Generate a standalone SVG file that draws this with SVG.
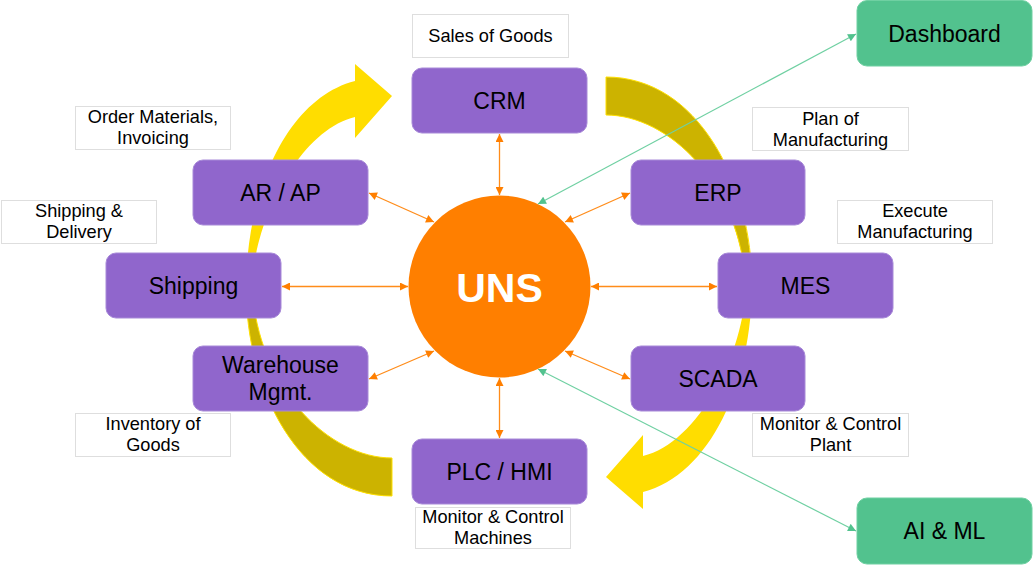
<svg xmlns="http://www.w3.org/2000/svg" width="1033" height="565" viewBox="0 0 1033 565">
<style>
.node rect{fill:#9066cc;stroke:#a88ad8;stroke-width:1}
.node text{font-family:"Liberation Sans",Arial,sans-serif;font-size:23px;fill:#000;text-anchor:middle}
.ext rect{fill:#52c28e;stroke:#6fd0a2;stroke-width:1}
.ext text{font-family:"Liberation Sans",Arial,sans-serif;font-size:23px;fill:#000;text-anchor:middle}
.lbl rect{fill:#fff;stroke:#dedede;stroke-width:1}
.lbl text{font-family:"Liberation Sans",Arial,sans-serif;font-size:18.2px;fill:#000;text-anchor:middle}
.bright{fill:#ffdd00}
.dark{fill:#ccb300;stroke:#ffe000;stroke-width:1}
.oc{stroke:#ff8c1a;stroke-width:1.3;fill:none;marker-start:url(#oa);marker-end:url(#oa)}
.gc{stroke:#6fd0a2;stroke-width:1.2;fill:none;marker-start:url(#ga);marker-end:url(#ga)}
</style>
<defs>
<marker id="oa" viewBox="0 0 10 10" refX="10" refY="5" markerWidth="9" markerHeight="8" markerUnits="userSpaceOnUse" orient="auto-start-reverse"><path d="M0,0 L10,5 L0,10 Z" fill="#ff7f00"/></marker>
<marker id="ga" viewBox="0 0 10 10" refX="10" refY="5" markerWidth="9" markerHeight="8" markerUnits="userSpaceOnUse" orient="auto-start-reverse"><path d="M0,0 L10,5 L0,10 Z" fill="#52c28e"/></marker>
<g id="arcL">
<path class="dark" d="M392,496 C300,496 246,390 246,287 L252,287 C258,390 330,458 392,458 Z"/>
<path class="bright" d="M246,290 C246,190 288,98 355,81 L355,64 L392,96 L355,138 L355,117 C300,130 253,220 252,290 Z"/>
</g>
</defs>
<g id="cycle-arrows">
<use href="#arcL"/>
<use href="#arcL" transform="rotate(180 499 286.5)"/>
</g>
<g id="uns">
<circle cx="499.5" cy="286.5" r="91" fill="#ff7f00"/>
<text x="499.5" y="301.5" font-family="Liberation Sans,Arial,sans-serif" font-size="41" font-weight="bold" fill="#fff" text-anchor="middle">UNS</text>
</g>
<g id="crm" class="node"><rect x="412" y="68" width="175" height="65" rx="10"/><text x="499.5" y="109">CRM</text></g>
<g id="arap" class="node"><rect x="193" y="160" width="175" height="65" rx="10"/><text x="280.5" y="201">AR / AP</text></g>
<g id="erp" class="node"><rect x="631" y="160" width="174" height="65" rx="10"/><text x="718" y="201">ERP</text></g>
<g id="shipping" class="node"><rect x="106" y="253" width="175" height="65" rx="10"/><text x="193.5" y="294">Shipping</text></g>
<g id="mes" class="node"><rect x="718" y="253" width="175" height="65" rx="10"/><text x="805.5" y="294">MES</text></g>
<g id="warehouse" class="node"><rect x="193" y="346" width="175" height="65" rx="10"/><text x="280.5" y="373">Warehouse</text><text x="280.5" y="400">Mgmt.</text></g>
<g id="scada" class="node"><rect x="631" y="346" width="174" height="65" rx="10"/><text x="718" y="387">SCADA</text></g>
<g id="plc" class="node"><rect x="412" y="439" width="175" height="65" rx="10"/><text x="499.5" y="480">PLC / HMI</text></g>
<g id="dashboard" class="ext"><rect x="857" y="0.5" width="175" height="65.5" rx="10"/><text x="944.5" y="42">Dashboard</text></g>
<g id="aiml" class="ext"><rect x="857" y="498" width="175" height="66" rx="10"/><text x="944.5" y="539">AI &amp; ML</text></g>
<g id="lbl-sales" class="lbl"><rect x="412.5" y="14.5" width="156" height="43"/><text x="490.5" y="42">Sales of Goods</text></g>
<g id="lbl-order" class="lbl"><rect x="75.5" y="106.5" width="155" height="43"/><text x="153" y="123">Order Materials,</text><text x="153" y="144">Invoicing</text></g>
<g id="lbl-plan" class="lbl"><rect x="752.5" y="107.5" width="156" height="43"/><text x="830.5" y="125">Plan of</text><text x="830.5" y="146">Manufacturing</text></g>
<g id="lbl-shipdel" class="lbl"><rect x="1.5" y="200.5" width="155" height="43"/><text x="79" y="217">Shipping &amp;</text><text x="79" y="238">Delivery</text></g>
<g id="lbl-exec" class="lbl"><rect x="837.5" y="200.5" width="155" height="43"/><text x="915" y="217">Execute</text><text x="915" y="238">Manufacturing</text></g>
<g id="lbl-inv" class="lbl"><rect x="75.5" y="413.5" width="155" height="43"/><text x="153" y="430">Inventory of</text><text x="153" y="451">Goods</text></g>
<g id="lbl-plant" class="lbl"><rect x="752.5" y="413.5" width="156" height="43"/><text x="830.5" y="430">Monitor &amp; Control</text><text x="830.5" y="451">Plant</text></g>
<g id="lbl-mach" class="lbl"><rect x="415.5" y="507.5" width="155" height="41"/><text x="493" y="523">Monitor &amp; Control</text><text x="493" y="544">Machines</text></g>
<g id="connectors">
<line class="oc" x1="499.5" y1="134" x2="499.5" y2="195"/>
<line class="oc" x1="369" y1="193" x2="434" y2="222"/>
<line class="oc" x1="630" y1="193" x2="565" y2="222"/>
<line class="oc" x1="282" y1="286.5" x2="408" y2="286.5"/>
<line class="oc" x1="717" y1="286.5" x2="591" y2="286.5"/>
<line class="oc" x1="369" y1="379" x2="434" y2="351"/>
<line class="oc" x1="630" y1="379" x2="565" y2="351"/>
<line class="oc" x1="499.5" y1="438" x2="499.5" y2="378"/>
<line class="gc" x1="856" y1="34" x2="538" y2="204"/>
<line class="gc" x1="856" y1="531" x2="538" y2="369"/>
</g>
</svg>
